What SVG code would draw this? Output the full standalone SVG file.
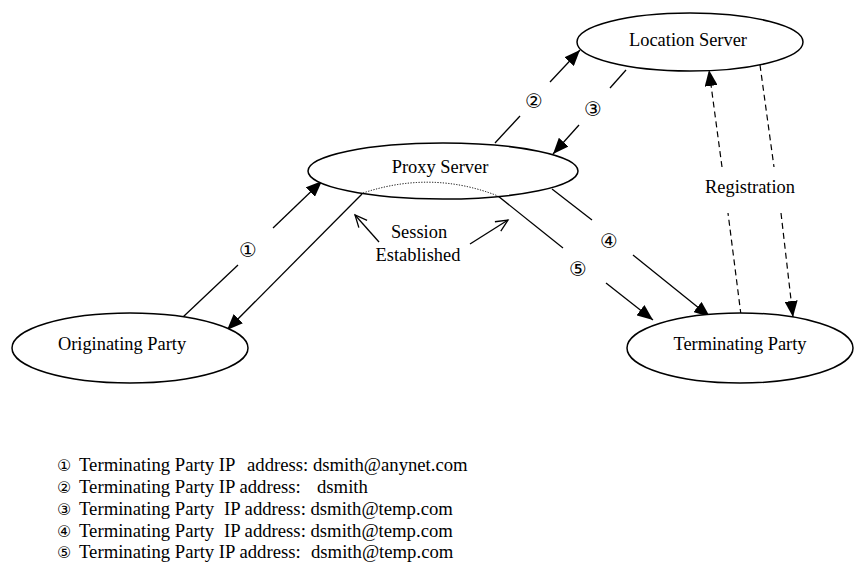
<svg xmlns="http://www.w3.org/2000/svg" width="854" height="562" viewBox="0 0 854 562">
<defs>
<style>
.node{fill:#fff;stroke:#000;stroke-width:1.5}
.lbl{font-family:"Liberation Serif","Times New Roman",serif;font-size:18.4px;fill:#000;text-anchor:middle}
.num{font-family:"DejaVu Sans",sans-serif;font-size:20px;fill:#000;text-anchor:middle;dominant-baseline:central}
.leg{font-family:"Liberation Serif","Times New Roman",serif;font-size:18.7px;fill:#000}
.legn{font-family:"DejaVu Sans",sans-serif;font-size:16px;fill:#000}
.ln{stroke:#000;stroke-width:1.3;fill:none}
.dash{stroke:#000;stroke-width:1.2;fill:none;stroke-dasharray:6 4}
.dot{stroke:#000;stroke-width:1;fill:none;stroke-dasharray:1.2 1.5}
</style>
<marker id="ah" markerUnits="userSpaceOnUse" markerWidth="17" markerHeight="13" refX="16" refY="6.5" orient="auto">
<path d="M0,0 L16,6.5 L0,13 z" fill="#000"/>
</marker>
<marker id="oa" markerUnits="userSpaceOnUse" markerWidth="16" markerHeight="14" refX="13" refY="6.5" orient="auto">
<path d="M1,1 L13,6.5 L1,12" fill="none" stroke="#000" stroke-width="1.3"/>
</marker>
</defs>
<rect width="854" height="562" fill="#fff"/>

<g id="connectors">
<line class="ln" x1="183" y1="317" x2="238" y2="265"/>
<line class="ln" x1="273" y1="228" x2="322" y2="181" marker-end="url(#ah)"/>
<line class="ln" x1="362" y1="194" x2="227" y2="330" marker-end="url(#ah)"/>
<line class="ln" x1="495" y1="143" x2="520" y2="116"/>
<line class="ln" x1="550" y1="82" x2="580" y2="50" marker-end="url(#ah)"/>
<line class="ln" x1="626" y1="70" x2="610" y2="88"/>
<line class="ln" x1="579" y1="125" x2="553" y2="154" marker-end="url(#ah)"/>
<line class="ln" x1="552" y1="189" x2="592" y2="220"/>
<line class="ln" x1="633" y1="255" x2="710" y2="317" marker-end="url(#ah)"/>
<line class="ln" x1="498" y1="196" x2="563" y2="248"/>
<line class="ln" x1="606" y1="283" x2="653" y2="320" marker-end="url(#ah)"/>
<line class="dash" x1="741" y1="315" x2="728" y2="213"/>
<line class="dash" x1="722" y1="167" x2="709" y2="70" marker-end="url(#ah)"/>
<line class="dash" x1="760" y1="65" x2="774" y2="167"/>
<line class="dash" x1="781" y1="213" x2="793" y2="317" marker-end="url(#ah)"/>
<line class="ln" x1="379" y1="242" x2="355" y2="215" marker-end="url(#oa)"/>
<line class="ln" x1="470" y1="244" x2="508" y2="220" marker-end="url(#oa)"/>
<text class="num" x="248" y="250">①</text>
<text class="num" x="534" y="101">②</text>
<text class="num" x="593" y="109">③</text>
<text class="num" x="609" y="241">④</text>
<text class="num" x="578" y="269">⑤</text>
<text class="lbl" x="750" y="193">Registration</text>
<text class="lbl" x="419" y="238">Session</text>
<text class="lbl" x="418" y="261">Established</text>
</g>

<g id="location-server">
<ellipse class="node" cx="690" cy="42" rx="113" ry="29"/>
<text class="lbl" x="688" y="46">Location Server</text>
</g>

<g id="proxy-server">
<ellipse class="node" cx="443" cy="171" rx="135" ry="28"/>
<text class="lbl" x="440" y="173">Proxy Server</text>
<path class="dot" d="M363,193 Q432,170 498,196"/>
</g>

<g id="originating-party">
<ellipse class="node" cx="130" cy="348" rx="118" ry="35"/>
<text class="lbl" x="122" y="350">Originating Party</text>
</g>

<g id="terminating-party">
<ellipse class="node" cx="740" cy="348" rx="113" ry="35"/>
<text class="lbl" x="740" y="350">Terminating Party</text>
</g>

<g id="legend">
<text class="legn" x="57" y="471">①</text>
<text class="leg" y="471"><tspan x="79">Terminating Party IP</tspan><tspan x="247">address: dsmith@anynet.com</tspan></text>
<text class="legn" x="57" y="493">②</text>
<text class="leg" y="493"><tspan x="79">Terminating Party IP address:</tspan><tspan x="317">dsmith</tspan></text>
<text class="legn" x="57" y="515">③</text>
<text class="leg" y="515"><tspan x="79">Terminating Party</tspan><tspan x="224">IP address: dsmith@temp.com</tspan></text>
<text class="legn" x="57" y="537">④</text>
<text class="leg" y="537"><tspan x="79">Terminating Party</tspan><tspan x="224">IP address: dsmith@temp.com</tspan></text>
<text class="legn" x="57" y="558">⑤</text>
<text class="leg" y="558"><tspan x="79">Terminating Party IP address:</tspan><tspan x="311">dsmith@temp.com</tspan></text>
</g>
</svg>
